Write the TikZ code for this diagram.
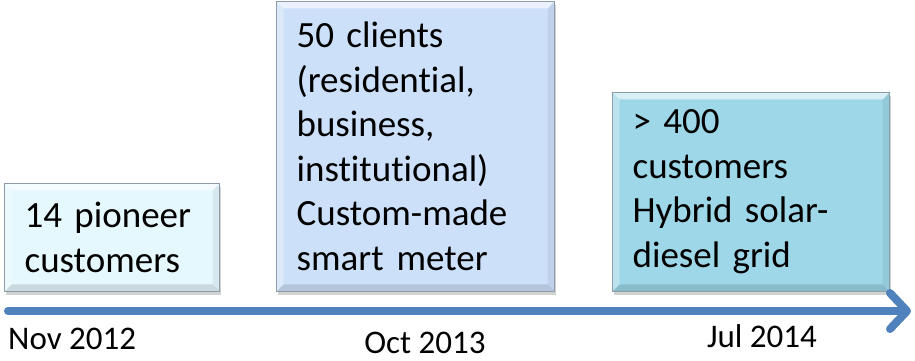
\documentclass[tikz,border=0pt]{standalone}
\usepackage{fontspec}
\setmainfont{Carlito}[Ligatures=NoCommon]
\usetikzlibrary{arrows.meta,shadows}
\definecolor{pioneerfill}{HTML}{E5F8FD}
\definecolor{clientfill}{HTML}{CCE0FA}
\definecolor{gridfill}{HTML}{9DD7E8}
\definecolor{boxedge}{HTML}{8D9CA8}
\definecolor{timeblue}{HTML}{4F81BD}

\begin{document}
\begin{tikzpicture}[x=1pt, y=-1pt,
    every node/.style={font=\fontsize{37}{44.5}\selectfont},
    milestone/.style={draw=boxedge, line width=1.2pt, anchor=south west, align=left,
        inner xsep=20pt, inner ysep=0pt,
        drop shadow={shadow xshift=1.5pt, shadow yshift=-4pt, opacity=0.35},
        path picture={
            \fill[white, opacity=0.6] (path picture bounding box.north west) -- (path picture bounding box.north east)
                -- ([xshift=-7pt, yshift=-7pt]path picture bounding box.north east) -- ([xshift=7pt, yshift=-7pt]path picture bounding box.north west) -- cycle;
            \fill[white, opacity=0.3] (path picture bounding box.north west) -- (path picture bounding box.south west)
                -- ([xshift=7pt, yshift=7pt]path picture bounding box.south west) -- ([xshift=7pt, yshift=-7pt]path picture bounding box.north west) -- cycle;
            \fill[black, opacity=0.12] (path picture bounding box.south west) -- (path picture bounding box.south east)
                -- ([xshift=-7pt, yshift=7pt]path picture bounding box.south east) -- ([xshift=7pt, yshift=7pt]path picture bounding box.south west) -- cycle;
            \fill[black, opacity=0.06] (path picture bounding box.north east) -- (path picture bounding box.south east)
                -- ([xshift=-7pt, yshift=7pt]path picture bounding box.south east) -- ([xshift=-7pt, yshift=-7pt]path picture bounding box.north east) -- cycle;
        }},
    datelabel/.style={font=\fontsize{33}{38}\selectfont, anchor=base, inner sep=0pt},
    timeline/.style={draw=timeblue, line width=8pt, line cap=round, -{Straight Barb[length=17pt, width=36pt, round]}}]

    \fill[white] (0,0) rectangle (915,360);
    \useasboundingbox (0,0) rectangle (915,360);

    % Milestones
    \node[milestone, fill=pioneerfill, text width=175pt, minimum height=108pt] (pioneer) at (4,292) {14 pioneer\\customers};
    \node[milestone, fill=clientfill, text width=238pt, minimum height=290pt] (clients) at (276,292) {50 clients\\(residential,\\business,\\institutional)\\Custom-made\\smart\hspace{0.35em}meter};
    \node[milestone, fill=gridfill, text width=237pt, minimum height=199pt] (hybrid) at (612,292) {> 400\\customers\\Hybrid solar-\\diesel grid};

    % Time axis
    \coordinate (tstart) at (8,311);
    \coordinate (tend) at (911,311);
    \draw[timeline] (tstart) -- (tend);

    % Dates
    \node[datelabel, anchor=base west] (nov) at (8,349) {Nov 2012};
    \node[datelabel] (oct) at (425,353) {Oct 2013};
    \node[datelabel] (jul) at (762,347) {Jul 2014};
\end{tikzpicture}
\end{document}
